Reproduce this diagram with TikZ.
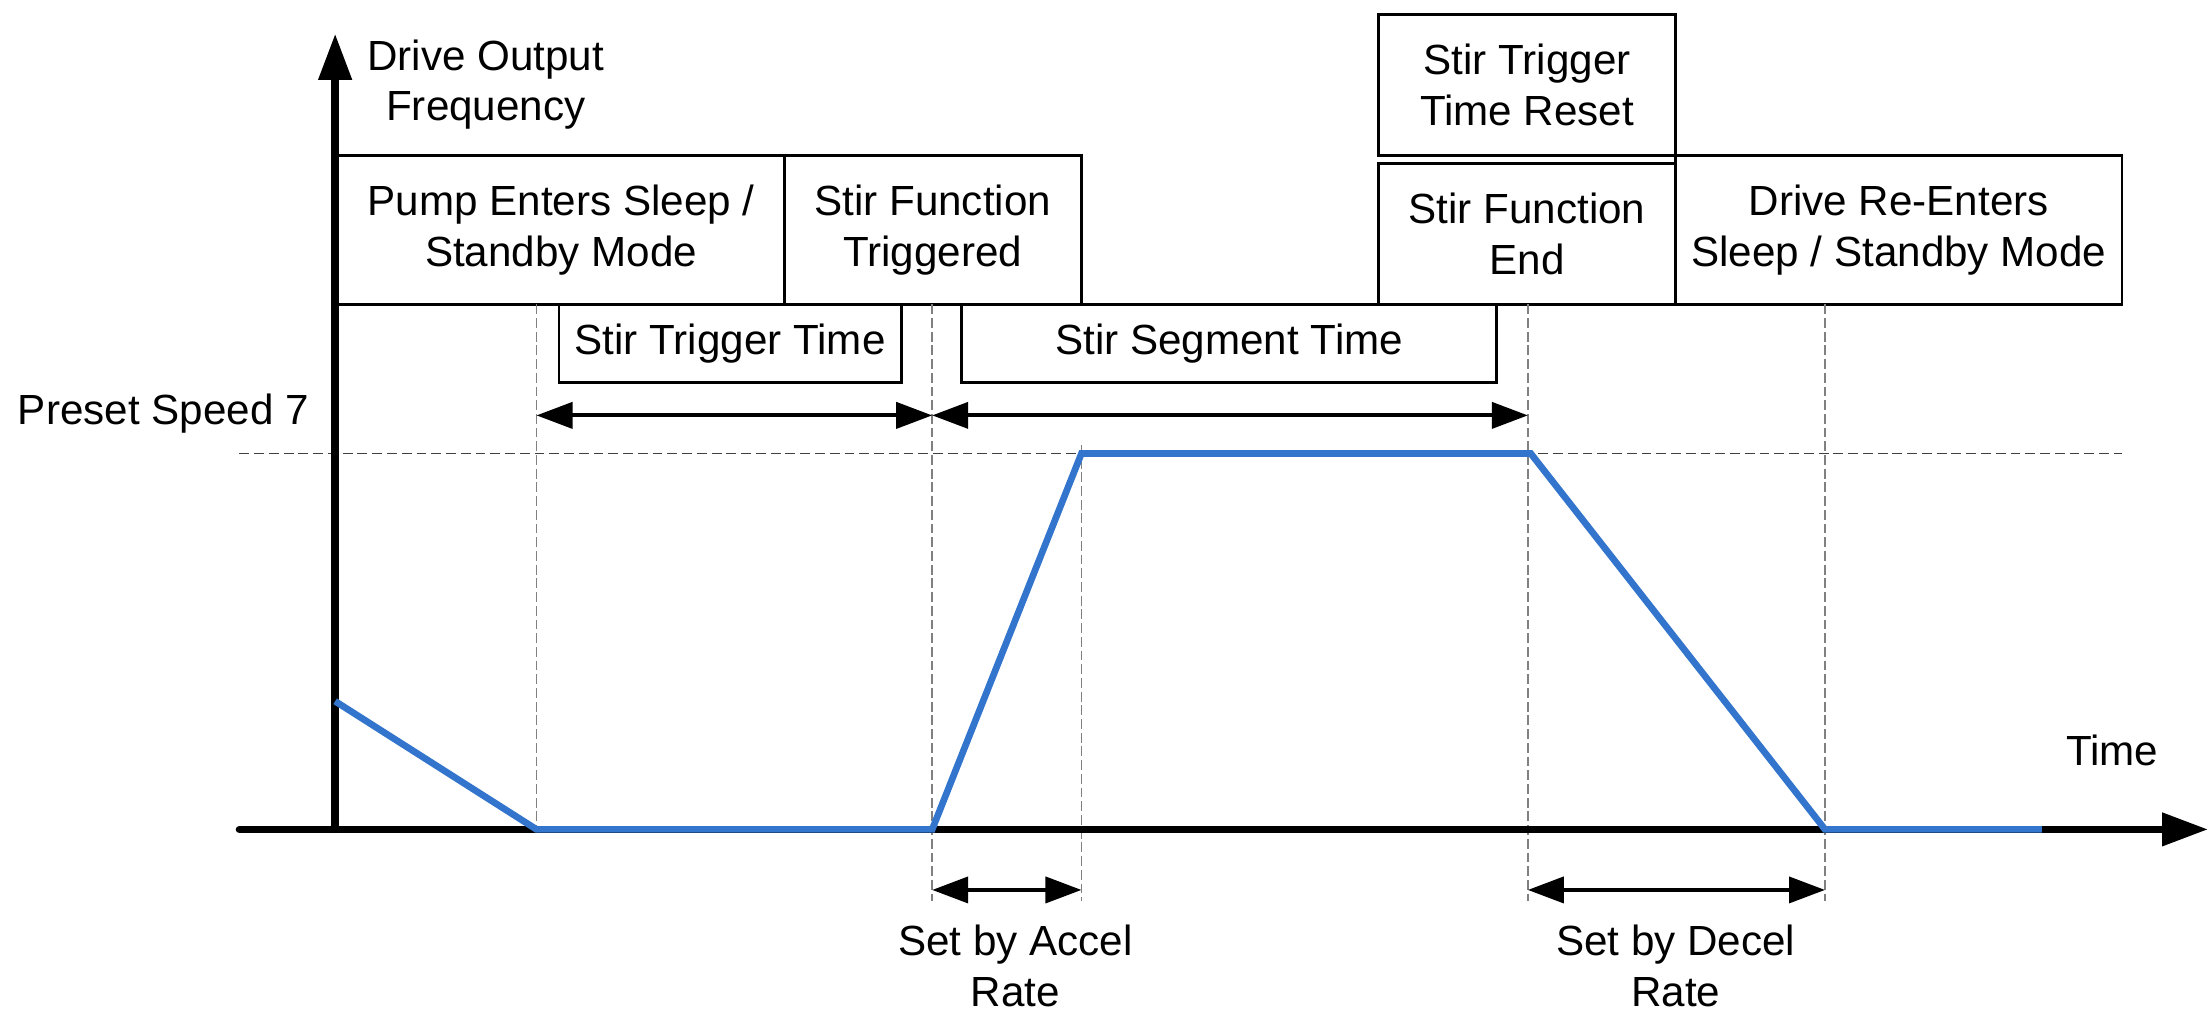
\documentclass[tikz,border=0pt]{standalone}
\usepackage{fontspec}
\setmainfont{Liberation Sans}
\usepackage{tikz}
\usetikzlibrary{arrows.meta,positioning}
\definecolor{trace}{RGB}{51, 116, 204}
\definecolor{guidegray}{RGB}{128, 128, 128}
\tikzstyle{event} = [rectangle, draw=black, line width=0.8pt, align=center, inner sep=0pt, outer sep=0pt, minimum width=2.971cm, minimum height=1.485cm, font=\fontsize{12}{14.4}\selectfont]
\tikzstyle{span} = [event, minimum height=0.780cm]
\tikzstyle{txt} = [align=center, inner sep=0pt, font=\fontsize{12}{14.4}\selectfont]
\tikzstyle{guide} = [draw=guidegray, line width=0.5pt, dash pattern=on 2.8pt off 1.1pt]
\tikzstyle{preset} = [draw=black!75, line width=0.5pt, dash pattern=on 2.8pt off 1.4pt]
\tikzstyle{tedge} = [draw, line width=1.1pt, {Triangle[length=0.36cm,width=0.26cm]}-{Triangle[length=0.36cm,width=0.26cm]}]
\tikzstyle{axis} = [draw, line width=2.1pt, line cap=round, -{Triangle[length=0.46cm,width=0.32cm]}]
\tikzstyle{speed} = [draw=trace, line width=1.9pt]

\begin{document}
\begin{tikzpicture}[x=0.01408cm, y=-0.01408cm]
\useasboundingbox (0,0) rectangle (1568,719);

% time marks =============================
\coordinate (t0) at (238,589);
\coordinate (t1) at (381,589);
\coordinate (t2) at (662,589);
\coordinate (t3) at (768,589);
\coordinate (t4) at (1085,589);
\coordinate (t5) at (1296,589);
\coordinate (t6) at (1450,589);

% event boxes =============================
\node[event, minimum width=4.463cm, anchor=north west] (pump) at (240,110.6) {Pump Enters Sleep /\\Standby Mode};
\node[event, right=0pt of pump] (trig) {Stir Function\\Triggered};
\node[event, minimum height=1.409cm, anchor=south west] (end) at (979,216.1) {Stir Function\\End};
\node[event, minimum height=1.414cm, above=0.076cm of end] (reset) {Stir Trigger\\Time Reset};
\node[event, minimum width=4.463cm, anchor=south west] (reenter) at (end.south east) {Drive Re-Enters\\Sleep / Standby Mode};

\node[span, minimum width=3.421cm, anchor=north west] (trig-time) at (397,216.1) {Stir Trigger Time};
\node[span, minimum width=5.350cm, anchor=north west] (seg-time) at (683,216.1) {Stir Segment Time};

% guides
\coordinate (g1) at (381,216.1);
\coordinate (g2) at (662,216.1);
\coordinate (g3) at (768,316);
\coordinate (g4) at (1085,216.1);
\coordinate (g5) at (1296,216.1);
\coordinate (g2-low) at (662,640);
\coordinate (g3-low) at (768,640);
\coordinate (g4-low) at (1085,640);
\coordinate (g5-low) at (1296,640);
\path[guide] (g1) -- (t1);
\path[guide] (g2) -- (g2-low);
\path[guide] (g3) -- (g3-low);
\path[guide] (g4) -- (g4-low);
\path[guide] (g5) -- (g5-low);

\coordinate (p-left) at (170,322);
\coordinate (p-right) at (1507,322);
\path[preset] (p-left) -- (p-right);

% axes =============================
\coordinate (y-top) at (238,24);
\coordinate (x-left) at (170,589);
\coordinate (x-right) at (1568,589);
\path[axis] (t0) -- (y-top);
\path[axis] (x-left) -- (x-right);

\node[txt] (ylabel) at (345,60) {Drive Output\\Frequency};
\node[txt] (speed7) at (116,294) {Preset Speed 7};
\node[txt] (time) at (1500,533) {Time};

% speed profile
\coordinate (start) at (238,498);
\coordinate (top-left) at (768,322);
\coordinate (top-right) at (1087,322);
\path[speed] (start) -- (t1) -- (t2) -- (top-left) -- (top-right) -- (t5) -- (t6);

% spans =============================
\coordinate (a1) at (381,295);
\coordinate (a2) at (662,295);
\coordinate (a3) at (1085,295);
\path[tedge] (a1) -- (a2);
\path[tedge] (a2) -- (a3);

\coordinate (acc-l) at (662,632);
\coordinate (acc-r) at (768,632);
\coordinate (dec-l) at (1085,632);
\coordinate (dec-r) at (1296,632);
\path[tedge] (acc-l) -- (acc-r);
\path[tedge] (dec-l) -- (dec-r);

\node[txt] (accel) at (721,686) {Set by Accel\\Rate};
\node[txt] (decel) at (1190,686) {Set by Decel\\Rate};

\end{tikzpicture}
\end{document}
